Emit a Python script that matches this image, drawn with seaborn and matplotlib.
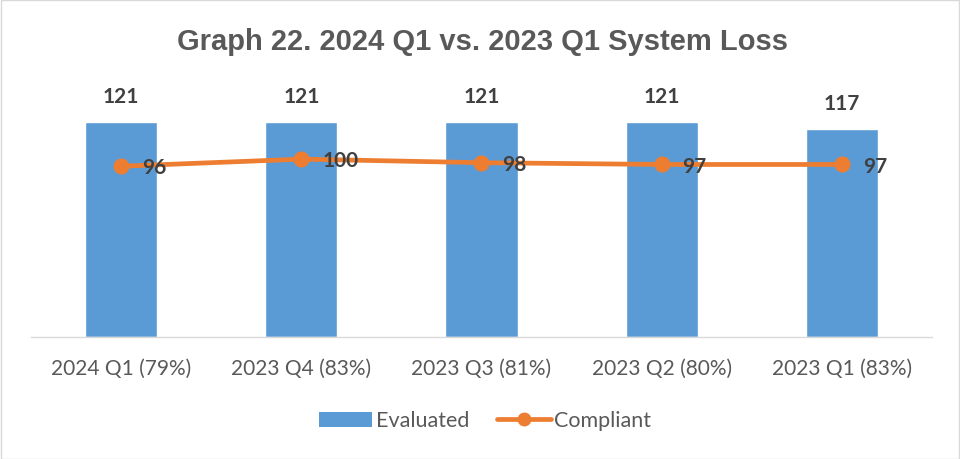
import matplotlib
matplotlib.use("Agg")
import matplotlib.pyplot as plt
import seaborn as sns
import numpy as np
from matplotlib.patches import Patch
from matplotlib.lines import Line2D

# Data.
quarters = ["2024 Q1 (79%)", "2023 Q4 (83%)", "2023 Q3 (81%)", "2023 Q2 (80%)", "2023 Q1 (83%)"]
evaluated = [121, 121, 121, 121, 117]
compliant = [96, 100, 98, 97, 97]

BLUE = "#5B9BD5"
ORANGE = "#ED7D31"
GRAY = "#595959"
DARK = "#404040"
LABEL_FONT = ["Lato", "DejaVu Sans"]

sns.set_theme(style="white")
plt.rcParams['font.family'] = ['Liberation Sans', 'DejaVu Sans']

fig = plt.figure(figsize=(9.6, 4.59), dpi=100)
ax = fig.add_axes([0.0323, 0.2658, 0.9385, 0.5425])

sns.barplot(x=quarters, y=evaluated, color=BLUE, width=0.4, saturation=1, ax=ax)
sns.pointplot(x=quarters, y=compliant, color=ORANGE, markers="o", markersize=9,
              linewidth=3.4, ax=ax)

ax.set_ylim(0, 140)
ax.set_xlim(-0.5, len(quarters) - 0.5)
ax.set_yticks([])
ax.set_xlabel("")
ax.set_ylabel("")
for side in ["top", "left", "right"]:
    ax.spines[side].set_visible(False)
ax.spines["bottom"].set_color("#D9D9D9")
ax.spines["bottom"].set_linewidth(1)
ax.tick_params(axis="x", length=0, pad=16)
for lbl in ax.get_xticklabels():
    lbl.set_fontfamily(LABEL_FONT)
    lbl.set_fontsize(15)
    lbl.set_color(GRAY)

# data labels
for i, v in enumerate(evaluated):
    ax.annotate(str(v), (i, v), xytext=(0, 18), textcoords="offset points",
                ha="center", va="center", fontsize=15, fontweight="bold",
                color=DARK, family=LABEL_FONT)
for i, v in enumerate(compliant):
    ax.annotate(str(v), (i, v), xytext=(15, -1.5), textcoords="offset points",
                ha="left", va="center", fontsize=15, fontweight="bold",
                color=DARK, family=LABEL_FONT)

fig.text(0.503, 0.908, "Graph 22. 2024 Q1 vs. 2023 Q1 System Loss",
         ha="center", va="center", fontsize=21, fontweight="bold", color=GRAY)

handles = [Patch(facecolor=BLUE, edgecolor="none"),
           Line2D([0], [0], color=ORANGE, lw=3.4, marker="o", markersize=9)]
fig.legend(handles, ["Evaluated", "Compliant"], loc="center", bbox_to_anchor=(0.505, 0.083),
           ncol=2, frameon=False, prop={"family": LABEL_FONT, "size": 15.5},
           labelcolor=GRAY, handlelength=2.5, handletextpad=0.15, columnspacing=1.3)

fig.patches.append(plt.Rectangle((0.001, 0.001), 0.998, 0.998, transform=fig.transFigure,
                                 fill=False, edgecolor="#D9D9D9", linewidth=1))

fig.savefig("out.png", dpi=100, facecolor="white")
